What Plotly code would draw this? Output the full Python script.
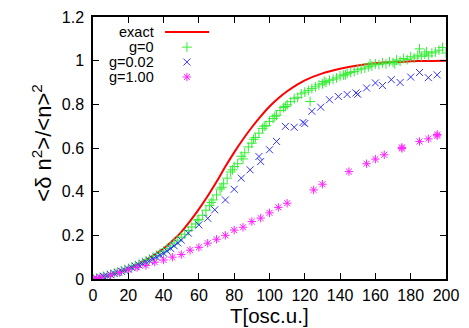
import plotly.graph_objects as go

# exact curve
exact_T = [0, 10, 20, 30, 40, 45, 50, 55, 60, 65, 70, 75, 80, 85, 90, 95, 100,
           105, 110, 115, 120, 130, 140, 150, 160, 170, 180, 190, 200]
exact_y = [0.0, 0.018, 0.048, 0.088, 0.14, 0.175, 0.215, 0.265, 0.32, 0.38, 0.445,
           0.515, 0.58, 0.64, 0.695, 0.745, 0.79, 0.828, 0.86, 0.887, 0.91, 0.942,
           0.963, 0.978, 0.988, 0.994, 0.997, 0.999, 1.0]

# g=0
g0_T = [0, 2, 4, 6, 8, 10, 12, 14, 16, 18, 20, 22, 24, 26, 28, 30, 32, 34, 36, 38,
        40, 42, 44, 46, 48, 50, 52, 54, 56, 58, 60, 62, 64, 66, 68, 70, 72, 74, 76, 78,
        80, 82, 84, 86, 88, 90, 92, 94, 96, 98, 100, 102, 104, 106, 108, 110, 112, 114,
        116, 118, 120, 122, 124, 126, 128, 130, 132, 134, 136, 138, 140, 142, 144, 146,
        148, 150, 152, 154, 156, 158, 160, 162, 164, 166, 168, 170, 172, 174, 176, 178,
        180, 182, 184, 186, 188, 190, 192, 194, 196, 198,
        123, 185, 200, 59, 67, 73, 79, 85, 91, 97, 103, 109, 131, 143, 157, 171, 189]
g0_y = [0.0, 0.004, 0.008, 0.012, 0.017, 0.022, 0.027, 0.032, 0.037, 0.043, 0.049,
        0.055, 0.061, 0.068, 0.075, 0.083, 0.09, 0.099, 0.108, 0.118, 0.128, 0.14,
        0.152, 0.165, 0.178, 0.192, 0.205, 0.222, 0.238, 0.252, 0.272, 0.292, 0.315,
        0.336, 0.362, 0.385, 0.412, 0.436, 0.462, 0.49, 0.515, 0.528, 0.562, 0.578,
        0.605, 0.622, 0.648, 0.668, 0.69, 0.702, 0.722, 0.735, 0.75, 0.772, 0.785,
        0.798, 0.812, 0.826, 0.832, 0.848, 0.856, 0.864, 0.872, 0.88, 0.889, 0.894,
        0.901, 0.91, 0.915, 0.921, 0.93, 0.934, 0.942, 0.946, 0.95, 0.958, 0.962,
        0.966, 0.972, 0.976, 0.985, 0.982, 0.99, 0.986, 0.995, 0.992, 1.003, 0.998,
        1.01, 1.005, 1.018, 1.012, 1.025, 1.02, 1.03, 1.022, 1.035, 1.04, 1.048, 1.06,
        0.813, 1.054, 1.035, 0.27, 0.35, 0.42, 0.5, 0.55, 0.64, 0.7, 0.745, 0.79,
        0.905, 0.935, 0.985, 0.985, 1.04]

# g=0.02
g002_T = [0, 2, 4, 6, 8, 10, 12, 14, 16, 18, 20, 22, 24, 26, 28, 30, 32, 34, 36, 38,
          40, 42, 44, 46, 48, 50, 54, 60, 65, 69, 75, 80, 84, 89, 94, 95, 100, 104,
          109, 114, 119, 120, 124, 129, 134, 139, 144, 149, 150, 155, 160, 164, 169,
          174, 180, 185, 190, 195]
g002_y = [0.0, 0.003, 0.007, 0.011, 0.015, 0.02, 0.025, 0.03, 0.035, 0.04, 0.046,
          0.052, 0.058, 0.064, 0.07, 0.077, 0.084, 0.092, 0.1, 0.109, 0.118, 0.128,
          0.14, 0.152, 0.165, 0.178, 0.21, 0.248, 0.278, 0.317, 0.362, 0.411, 0.462,
          0.5, 0.561, 0.538, 0.592, 0.63, 0.699, 0.695, 0.717, 0.712, 0.768, 0.787,
          0.821, 0.836, 0.845, 0.852, 0.846, 0.875, 0.898, 0.886, 0.913, 0.9, 0.925,
          0.946, 0.922, 0.935]

# g=1.00
g1_T = [0, 2, 5, 10, 15, 20, 25, 30, 35, 40, 45, 50, 55, 60, 65, 70, 75, 80, 85, 90,
        95, 100, 105, 110, 125, 130, 145, 155, 160, 165, 175, 175, 185, 190, 195, 195]
g1_y = [0.0, 0.003, 0.008, 0.018, 0.03, 0.042, 0.053, 0.062, 0.077, 0.087, 0.1,
        0.112, 0.132, 0.145, 0.164, 0.182, 0.2, 0.224, 0.237, 0.263, 0.279, 0.303,
        0.328, 0.347, 0.408, 0.434, 0.492, 0.528, 0.549, 0.569, 0.598, 0.603, 0.63,
        0.642, 0.656, 0.662]

legend_names = ["exact", "g=0", "g=0.02", "g=1.00"]

RED = "#ff0000"
GREEN = "#33ee33"
BLUE = "#3333ff"
MAGENTA = "#ff22ff"
MSIZE = 7

fig = go.Figure()
fig.add_trace(go.Scatter(x=exact_T, y=exact_y, mode="lines", line=dict(color=RED, width=2, shape="spline"),
                         showlegend=False))
fig.add_trace(go.Scatter(x=g0_T, y=g0_y, mode="markers", showlegend=False,
                         marker=dict(symbol="cross-thin-open", size=MSIZE, color=GREEN, line=dict(width=1, color=GREEN))))
fig.add_trace(go.Scatter(x=g002_T, y=g002_y, mode="markers", showlegend=False,
                         marker=dict(symbol="x-thin-open", size=MSIZE, color=BLUE, line=dict(width=1, color=BLUE))))
fig.add_trace(go.Scatter(x=g1_T, y=g1_y, mode="markers", showlegend=False,
                         marker=dict(symbol="asterisk-open", size=MSIZE, color=MAGENTA, line=dict(width=1, color=MAGENTA))))

# hand-made gnuplot style key: text on the left, sample on the right
key_y = [0.943, 0.885, 0.828, 0.771]
for name, ky in zip(legend_names, key_y):
    fig.add_annotation(x=0.178, y=ky, xref="paper", yref="paper", text=name, showarrow=False,
                       xanchor="right", yanchor="middle", font=dict(size=14.5, color="black"))
fig.add_shape(type="line", xref="paper", yref="paper", x0=0.204, x1=0.329, y0=key_y[0], y1=key_y[0],
              line=dict(color=RED, width=2))
key_sym = [("cross-thin-open", GREEN), ("x-thin-open", BLUE), ("asterisk-open", MAGENTA)]
for (sym, col), ky in zip(key_sym, key_y[1:]):
    fig.add_trace(go.Scatter(x=[0.266], y=[ky], xaxis="x2", yaxis="y2", mode="markers", showlegend=False,
                             marker=dict(symbol=sym, size=MSIZE, color=col, line=dict(width=1, color=col))))

# axis titles placed as in the gnuplot original
fig.add_annotation(x=0.5, y=-0.186, xref="paper", yref="paper", yanchor="bottom", showarrow=False,
                   text="T[osc.u.]", font=dict(size=20.5, color="black"), borderpad=0)
fig.add_annotation(x=-0.19, y=0.52, xref="paper", yref="paper", textangle=-90, showarrow=False,
                   text="<δ n<sup>2</sup>>/<n><sup>2</sup>", font=dict(size=22, color="black"))

axis_common = dict(showline=True, linecolor="black", linewidth=1.5, mirror="allticks", ticks="inside",
                   ticklen=6, tickcolor="black", showgrid=False, zeroline=False, automargin=False,
                   tickfont=dict(size=16, color="black"))
fig.update_layout(
    width=469, height=328,
    margin=dict(l=93, r=23, t=17, b=49),
    paper_bgcolor="white", plot_bgcolor="white",
    font=dict(family="Liberation Sans, Arial, sans-serif", color="black"),
    xaxis=dict(range=[0, 200], dtick=20, ticklabelstandoff=1, **axis_common),
    yaxis=dict(range=[0, 1.2], dtick=0.2, ticklabelstandoff=4, **axis_common),
    xaxis2=dict(range=[0, 1], overlaying="x", visible=False),
    yaxis2=dict(range=[0, 1], overlaying="y", visible=False),
)

# drop the default 8px page margin so the figure sits at the window corner
fig.write_html("out.html", config={"displayModeBar": False},
               post_script="document.body.style.margin='0';")
